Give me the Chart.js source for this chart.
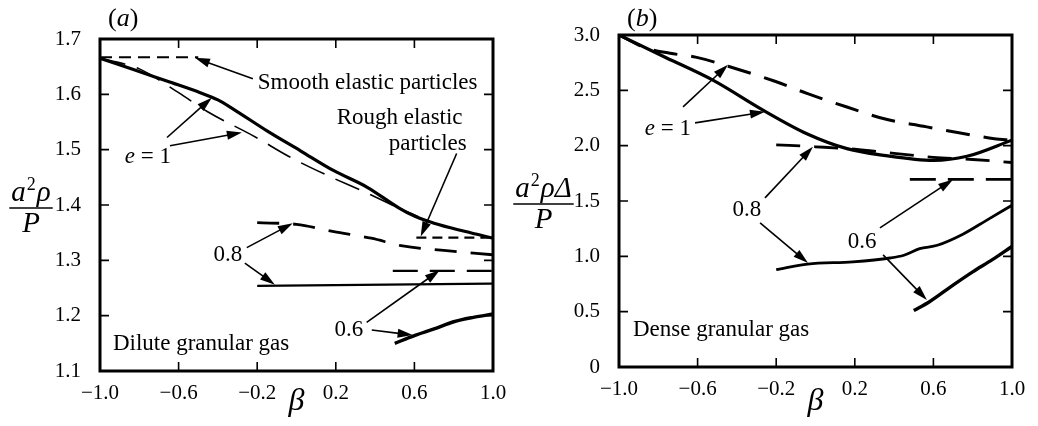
<!DOCTYPE html>
<html>
<head>
<meta charset="utf-8">
<script src="https://cdn.jsdelivr.net/npm/chart.js@4.4.0/dist/chart.umd.min.js"></script>
<style>
  body { margin: 0; background: #fff; }
  #wrap { position: relative; width: 1038px; height: 426px; overflow: hidden; }
  canvas { position: absolute; top: 0; }
  #chartA { left: 0; }
  #chartB { left: 500px; }
</style>
</head>
<body>
<div id="wrap">
  <canvas id="chartA" width="519" height="426"></canvas>
  <canvas id="chartB" width="538" height="426"></canvas>
</div>
<script>
var SERIF = '"Liberation Serif", "Times New Roman", serif';

// ticks
var xTicks = [-1.0, -0.6, -0.2, 0.2, 0.6, 1.0];
var yTicksA = [1.1, 1.2, 1.3, 1.4, 1.5, 1.6, 1.7];
var yTicksB = [0, 0.5, 1.0, 1.5, 2.0, 2.5, 3.0];

/* (a) dilute granular gas */
var aSmoothBeta = [-1.0, -0.5];
var aSmoothVal = [1.667, 1.667];
var aRoughBeta = [0.61, 1.0];
var aRoughVal = [1.341, 1.341];
var aE1Beta = [-1.0, -0.83, -0.66, -0.49, -0.4, -0.32, -0.15, 0.02, 0.19, 0.36, 0.52, 0.6, 0.7, 0.86, 1.0];
var aE1Val = [1.665, 1.645, 1.624, 1.603, 1.590, 1.573, 1.534, 1.498, 1.462, 1.432, 1.395, 1.380, 1.367, 1.352, 1.340];
var aE1DashBeta = [-1.0, -0.8, -0.6, -0.45, -0.22, -0.03, 0.16, 0.35, 0.53, 0.62];
var aE1DashVal = [1.665, 1.646, 1.603, 1.568, 1.525, 1.486, 1.453, 1.423, 1.393, 1.379];
var a08DashBeta = [-0.2, 0.0, 0.19, 0.38, 0.54, 0.75, 1.0];
var a08DashVal = [1.368, 1.365, 1.352, 1.340, 1.326, 1.318, 1.310];
var a08Beta = [-0.2, 1.0];
var a08Val = [1.254, 1.258];
var a06DashBeta = [0.49, 1.0];
var a06DashVal = [1.281, 1.281];
var a06Beta = [0.5, 0.6, 0.7, 0.8, 0.9, 1.0];
var a06Val = [1.150, 1.164, 1.176, 1.189, 1.197, 1.203];

/* (b) dense granular gas */
var bE1Beta = [-1.0, -0.76, -0.52, -0.265, -0.044, 0.16, 0.346, 0.6, 0.771, 1.0];
var bE1Val = [3.0, 2.795, 2.59, 2.319, 2.108, 1.973, 1.913, 1.867, 1.904, 2.05];
var bE1DashBeta = [-1.0, -0.86, -0.74, -0.61, -0.4, -0.21, -0.04, 0.16, 0.36, 0.55, 0.73, 0.91, 1.0];
var bE1DashVal = [3.0, 2.88, 2.835, 2.80, 2.693, 2.584, 2.47, 2.349, 2.238, 2.175, 2.117, 2.063, 2.048];
var b08DashBeta = [-0.2, 0.0, 0.2, 0.4, 0.6, 0.8, 1.0];
var b08DashVal = [2.008, 1.99, 1.968, 1.93, 1.895, 1.875, 1.848];
var b06DashBeta = [0.48, 1.0];
var b06DashVal = [1.696, 1.696];
var b08Beta = [-0.2, -0.04, 0.19, 0.38, 0.45, 0.53, 0.62, 0.75, 0.87, 1.0];
var b08Val = [0.88, 0.93, 0.95, 0.985, 1.01, 1.069, 1.10, 1.2, 1.325, 1.461];
var b06Beta = [0.5, 0.58, 0.7, 0.8, 0.9, 1.0];
var b06Val = [0.51, 0.59, 0.74, 0.86, 0.97, 1.09];

// labels and arrows, in data units (beta, value)
var notesA = {
  tag: 'a',
  texts: [
    { b: -0.197, v: 1.624, align: 'left', parts: [['Smooth elastic particles', '']] },
    { b: 0.525, v: 1.561, align: 'center', parts: [['Rough elastic', '']] },
    { b: 0.668, v: 1.513, align: 'center', parts: [['particles', '']] },
    { b: -0.756, v: 1.491, align: 'center', parts: [['e', 'italic'], [' = 1', '']] },
    { b: -0.349, v: 1.314, align: 'center', parts: [['0.8', '']] },
    { b: 0.266, v: 1.177, align: 'center', parts: [['0.6', '']] },
    { b: -0.934, v: 1.152, align: 'left', parts: [['Dilute granular gas', '']] }
  ],
  arrows: [
    [-0.222, 1.628, -0.517, 1.666],
    [0.815, 1.493, 0.632, 1.343],
    [-0.659, 1.522, -0.431, 1.594],
    [-0.644, 1.507, -0.278, 1.531],
    [-0.253, 1.323, -0.019, 1.367],
    [-0.263, 1.295, -0.110, 1.256],
    [0.357, 1.188, 0.729, 1.282],
    [0.383, 1.174, 0.591, 1.165]
  ],
  ytitle: [['a', 'italic'], ['2', 'sup'], ['ρ', 'italic']],
  ytitleX: 31
};
var notesB = {
  tag: 'b',
  texts: [
    { b: -0.751, v: 2.17, align: 'center', parts: [['e', 'italic'], [' = 1', '']] },
    { b: -0.349, v: 1.437, align: 'center', parts: [['0.8', '']] },
    { b: 0.237, v: 1.148, align: 'center', parts: [['0.6', '']] },
    { b: -0.929, v: 0.353, align: 'left', parts: [['Dense granular gas', '']] }
  ],
  arrows: [
    [-0.674, 2.351, -0.445, 2.731],
    [-0.613, 2.206, -0.257, 2.306],
    [-0.257, 1.528, -0.013, 1.99],
    [-0.282, 1.302, -0.038, 0.940],
    [0.328, 1.257, 0.700, 1.694],
    [0.344, 1.013, 0.567, 0.606]
  ],
  ytitle: [['a', 'italic'], ['2', 'sup'], ['ρ', 'italic'], ['Δ', 'italic']],
  ytitleX: 43.5
};

function pts(b, v) {
  return b.map(function (x, i) { return { x: x, y: v[i] }; });
}

function line(b, v, width, dash) {
  return {
    data: pts(b, v),
    showLine: true,
    borderColor: '#000',
    borderWidth: width,
    borderDash: dash || [],
    pointRadius: 0,
    fill: false,
    cubicInterpolationMode: 'monotone'
  };
}

function fmt(v) {
  if (v === 0) return '0';
  return v.toFixed(1).replace('-', '\u2212');
}

function fontOf(style, size) {
  return (style === 'italic' ? 'italic ' : '') + size + 'px ' + SERIF;
}

function partsWidth(ctx, parts, size) {
  var total = 0;
  parts.forEach(function (p) {
    var s = p[1] === 'sup' ? size * 0.62 : size;
    ctx.font = fontOf(p[1], s);
    total += ctx.measureText(p[0]).width + (p[1] === 'sup' ? 2 : 0);
  });
  return total;
}

// draws mixed roman / italic text
function drawParts(ctx, parts, x, y, align, size) {
  var total = partsWidth(ctx, parts, size);
  var cx = align === 'left' ? x : x - total / 2;
  ctx.textAlign = 'left';
  ctx.textBaseline = 'alphabetic';
  parts.forEach(function (p) {
    var s = p[1] === 'sup' ? size * 0.62 : size;
    ctx.font = fontOf(p[1], s);
    var dy = p[1] === 'sup' ? -size * 0.38 : 0;
    ctx.fillText(p[0], cx + (p[1] === 'sup' ? 1 : 0), y + dy);
    cx += ctx.measureText(p[0]).width + (p[1] === 'sup' ? 2 : 0);
  });
}

function arrow(ctx, x1, y1, x2, y2) {
  var ang = Math.atan2(y2 - y1, x2 - x1);
  var len = 15, half = 4.5;
  ctx.beginPath();
  ctx.moveTo(x1, y1);
  ctx.lineTo(x2 - Math.cos(ang) * len * 0.8, y2 - Math.sin(ang) * len * 0.8);
  ctx.lineWidth = 1.6;
  ctx.stroke();
  ctx.beginPath();
  ctx.moveTo(x2, y2);
  ctx.lineTo(x2 - Math.cos(ang) * len - Math.sin(ang) * half, y2 - Math.sin(ang) * len + Math.cos(ang) * half);
  ctx.lineTo(x2 - Math.cos(ang) * len + Math.sin(ang) * half, y2 - Math.sin(ang) * len - Math.cos(ang) * half);
  ctx.closePath();
  ctx.fill();
}

// box + inward ticks on all four sides
var framePlugin = {
  id: 'frame',
  afterDatasetsDraw: function (chart) {
    var ctx = chart.ctx, a = chart.chartArea;
    var sx = chart.scales.x, sy = chart.scales.y;
    ctx.save();
    ctx.strokeStyle = '#000';
    ctx.lineWidth = 1.6;
    sx.ticks.forEach(function (t) {
      var px = sx.getPixelForValue(t.value);
      ctx.beginPath();
      ctx.moveTo(px, a.bottom); ctx.lineTo(px, a.bottom - 9);
      ctx.moveTo(px, a.top); ctx.lineTo(px, a.top + 9);
      ctx.stroke();
    });
    sy.ticks.forEach(function (t) {
      var py = sy.getPixelForValue(t.value);
      ctx.beginPath();
      ctx.moveTo(a.left, py); ctx.lineTo(a.left + 9, py);
      ctx.moveTo(a.right, py); ctx.lineTo(a.right - 9, py);
      ctx.stroke();
    });
    ctx.lineWidth = 3;
    ctx.strokeRect(a.left, a.top, a.right - a.left, a.bottom - a.top);
    ctx.restore();
  }
};

function notesPlugin(n) {
  return {
    id: 'notes',
    afterDraw: function (chart) {
      var ctx = chart.ctx, sx = chart.scales.x, sy = chart.scales.y;
      ctx.save();
      ctx.fillStyle = '#000';
      ctx.strokeStyle = '#000';
      n.texts.forEach(function (t) {
        drawParts(ctx, t.parts, sx.getPixelForValue(t.b), sy.getPixelForValue(t.v) + 8, t.align, 23);
      });
      n.arrows.forEach(function (r) {
        arrow(ctx, sx.getPixelForValue(r[0]), sy.getPixelForValue(r[1]),
          sx.getPixelForValue(r[2]), sy.getPixelForValue(r[3]));
      });
      // panel tag
      drawParts(ctx, [['(', ''], [n.tag, 'italic'], [')', '']], chart.chartArea.left + 8, 26, 'left', 26);
      // fraction on the y axis
      var ly = sy.getPixelForValue(sy.ticks[3].value) + 3;
      drawParts(ctx, n.ytitle, n.ytitleX, ly - 7, 'center', 29);
      var w = partsWidth(ctx, n.ytitle, 29);
      ctx.lineWidth = 1.6;
      ctx.beginPath();
      ctx.moveTo(n.ytitleX - w / 2 - 2, ly);
      ctx.lineTo(n.ytitleX + w / 2 + 2, ly);
      ctx.stroke();
      drawParts(ctx, [['P', 'italic']], n.ytitleX, ly + 24, 'center', 29);
      ctx.restore();
    }
  };
}

function makeChart(id, datasets, yTicks, yMin, yMax, area, notes) {
  var canvas = document.getElementById(id);
  var W = canvas.width, H = canvas.height;
  return new Chart(canvas, {
    type: 'scatter',
    data: { datasets: datasets },
    options: {
      responsive: false,
      animation: false,
      layout: { padding: { top: area.top, right: W - area.right, left: 0, bottom: 0 } },
      plugins: { legend: { display: false }, tooltip: { enabled: false } },
      scales: {
        x: {
          type: 'linear', min: -1, max: 1,
          grid: { display: false }, border: { display: false },
          afterFit: function (s) { s.height = H - area.bottom; },
          afterBuildTicks: function (s) { s.ticks = xTicks.map(function (v) { return { value: v }; }); },
          ticks: { callback: fmt, color: '#000', font: { family: SERIF, size: 21 }, padding: 2, maxRotation: 0, autoSkip: false },
          title: { display: true, text: 'β', color: '#000', font: { family: SERIF, size: 32, style: 'italic' }, padding: { top: 0, bottom: 5 } }
        },
        y: {
          type: 'linear', min: yMin, max: yMax,
          grid: { display: false }, border: { display: false },
          afterFit: function (s) { s.width = area.left; },
          afterBuildTicks: function (s) { s.ticks = yTicks.map(function (v) { return { value: v }; }); },
          ticks: { callback: fmt, color: '#000', font: { family: SERIF, size: 21 }, padding: 11, autoSkip: false }
        }
      }
    },
    plugins: [framePlugin, notesPlugin(notes)]
  });
}

makeChart('chartA', [
  line(aE1Beta, aE1Val, 3.2),
  line(aE1DashBeta, aE1DashVal, 1.6, [26, 12]),
  line(aSmoothBeta, aSmoothVal, 2.2, [12, 7]),
  line(aRoughBeta, aRoughVal, 2.2, [10, 6]),
  line(a08DashBeta, a08DashVal, 2.8, [22, 14]),
  line(a08Beta, a08Val, 2.2),
  line(a06DashBeta, a06DashVal, 2.2, [25, 12]),
  line(a06Beta, a06Val, 3.4)
], yTicksA, 1.1, 1.7, { left: 100, right: 493, top: 39, bottom: 371 }, notesA);

makeChart('chartB', [
  line(bE1Beta, bE1Val, 3.2),
  line(bE1DashBeta, bE1DashVal, 3, [24, 14]),
  line(b08DashBeta, b08DashVal, 2.8, [24, 14]),
  line(b06DashBeta, b06DashVal, 2.8, [26, 12]),
  line(b08Beta, b08Val, 2.8),
  line(b06Beta, b06Val, 3.4)
], yTicksB, 0, 3, { left: 119, right: 512, top: 35, bottom: 367 }, notesB);
</script>
</body>
</html>
